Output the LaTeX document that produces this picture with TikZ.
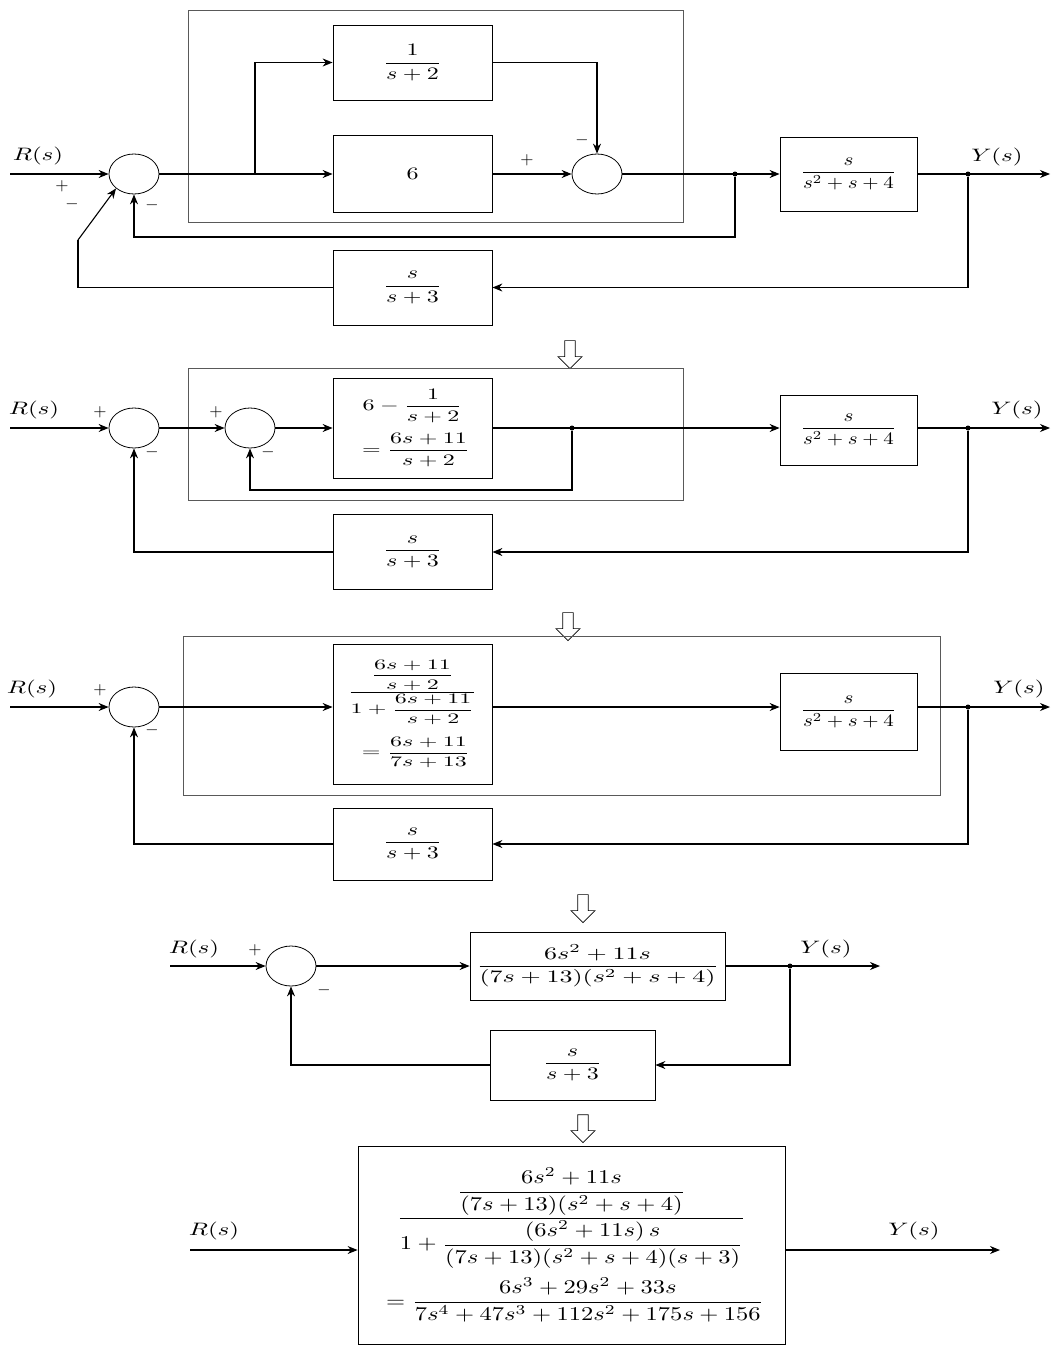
\documentclass[tikz,border=0pt]{standalone}
\usepackage{amsmath}
\usepackage{graphicx}
\usetikzlibrary{shapes.geometric,shapes.arrows,arrows.meta}
\newcommand{\bx}[1]{\scalebox{2.4}[1.75]{#1}}
\newcommand{\lx}[1]{\scalebox{2.5}[1.8]{#1}}
\newcommand{\sx}[1]{\scalebox{1.7}{#1}}
\tikzset{
  ln/.style={line width=1.1pt},
  arr/.style={line width=1.1pt,-{Stealth[length=10pt,width=8pt]}},
  blockbox/.style={draw,line width=0.8pt,minimum width=159pt,minimum height=75pt,inner sep=2pt},
  sumj/.style={draw,ellipse,line width=0.8pt,minimum width=50pt,minimum height=40pt,inner sep=0pt},
  grp/.style={draw=black!65,line width=0.6pt},
  lbl/.style={inner sep=1pt},
  sgn/.style={inner sep=1pt},
  dot/.style={circle,fill,inner sep=0pt,minimum size=5pt},
  stepdown/.style={draw,line width=0.7pt,single arrow,shape border rotate=270,minimum height=28pt,minimum width=24pt,single arrow head extend=3pt,inner sep=2pt,fill=white}
}
\begin{document}
\begin{tikzpicture}[x=1pt,y=-1pt]
\useasboundingbox (0,0) rectangle (1053,1346);

% ================= Stage 1 =================
\draw[grp] (188,10) rectangle (683,222);
\node[blockbox] (t1) at (412.5,62.5) {\bx{$\dfrac{1}{s+2}$}};
\node[blockbox,minimum height=77pt] (six) at (412.5,174) {\bx{$6$}};
\node[blockbox,minimum width=137pt,minimum height=74pt] (f1) at (848.5,174) {\scalebox{2.1}[1.75]{$\dfrac{s}{s^2+s+4}$}};
\node[blockbox] (h1) at (412.5,287.5) {\bx{$\dfrac{s}{s+3}$}};
\node[sumj] (sa) at (134,174) {};
\node[sumj] (sb) at (597,174) {};
\coordinate (r1) at (10,174);
\coordinate (y1) at (1050,174);
\coordinate (br1) at (255,174);
\node[dot] (p1) at (735,174) {};
\node[dot] (q1) at (968,174) {};
\coordinate (k1) at (78,240);
\node[lbl] (R1) at (38,156) {\lx{$R(s)$}};
\node[lbl] (Y1) at (997,157) {\lx{$Y(s)$}};
\node[sgn] at (62,186) {\sx{$+$}};
\node[sgn] at (72,204) {\sx{$-$}};
\node[sgn] at (152,205) {\sx{$-$}};
\node[sgn] at (527,160) {\sx{$+$}};
\node[sgn] at (582,140) {\sx{$-$}};
\draw[arr] (r1) -- (sa.west);
\draw[arr] (sa.east) -- (six.west);
\draw[arr] (br1) |- (t1.west);
\draw[arr] (t1.east) -| (sb.north);
\draw[arr] (six.east) -- (sb.west);
\draw[arr] (sb.east) -- (f1.west);
\draw[arr] (p1) -- (735,237) -| (sa.south);
\draw[arr] (f1.east) -- (y1);
\draw[arr] (q1) |- (h1.east);
\draw[ln] (h1.west) -| (k1);
\draw[arr] (k1) -- (sa.south west);

\node[stepdown] (d1) at (570,352) {};

% ================= Stage 2 =================
\draw[grp] (188,368) rectangle (683,500);
\node[sumj] (sc) at (134,428) {};
\node[sumj] (sd) at (250,428) {};
\node[blockbox,minimum height=100pt] (g2) at (412.5,428) {\scalebox{2.4}[1.6]{$\begin{array}{c}6-\dfrac{1}{s+2}\\ \rule{0pt}{20pt}=\dfrac{6s+11}{s+2}\end{array}$}};
\node[blockbox,minimum width=137pt,minimum height=70pt] (f2) at (848.5,430) {\scalebox{2.1}[1.75]{$\dfrac{s}{s^2+s+4}$}};
\node[blockbox] (h2) at (412.5,552) {\bx{$\dfrac{s}{s+3}$}};
\coordinate (r2) at (10,428);
\coordinate (y2) at (1050,428);
\node[dot] (p2) at (572,428) {};
\node[dot] (q2) at (968,428) {};
\node[lbl] (R2) at (34,410) {\lx{$R(s)$}};
\node[lbl] (Y2) at (1017,410) {\lx{$Y(s)$}};
\node[sgn] at (100,412) {\sx{$+$}};
\node[sgn] at (152,452) {\sx{$-$}};
\node[sgn] at (216,412) {\sx{$+$}};
\node[sgn] at (268,452) {\sx{$-$}};
\draw[arr] (r2) -- (sc.west);
\draw[arr] (sc.east) -- (sd.west);
\draw[arr] (sd.east) -- (g2.west);
\draw[arr] (g2.east) -- (f2.west |- g2.east);
\draw[arr] (p2) -- (572,490) -| (sd.south);
\draw[arr] (f2.east |- y2) -- (y2);
\draw[arr] (q2) |- (h2.east);
\draw[arr] (h2.west) -| (sc.south);

\node[stepdown] (d2) at (568,624) {};

% ================= Stage 3 =================
\draw[grp] (183,636) rectangle (940,795);
\node[sumj] (se) at (134,707) {};
\node[blockbox,minimum height=140pt] (g3) at (412.5,714) {\scalebox{2.4}[1.45]{$\begin{array}{c}\dfrac{\dfrac{6s+11}{s+2}}{1+\dfrac{6s+11}{s+2}}\\ \rule{0pt}{22pt}=\dfrac{6s+11}{7s+13}\end{array}$}};
\node[blockbox,minimum width=137pt,minimum height=77pt] (f3) at (848.5,712) {\scalebox{2.1}[1.75]{$\dfrac{s}{s^2+s+4}$}};
\node[blockbox,minimum height=72pt] (h3) at (412.5,844) {\bx{$\dfrac{s}{s+3}$}};
\coordinate (r3) at (10,707);
\coordinate (y3) at (1050,707);
\node[dot] (q3) at (968,707) {};
\node[lbl] (R3) at (32,689) {\lx{$R(s)$}};
\node[lbl] (Y3) at (1019,689) {\lx{$Y(s)$}};
\node[sgn] at (100,690) {\sx{$+$}};
\node[sgn] at (152,730) {\sx{$-$}};
\draw[arr] (r3) -- (se.west);
\draw[arr] (se.east) -- (g3.west |- se.east);
\draw[arr] (g3.east |- se.east) -- (f3.west |- se.east);
\draw[arr] (f3.east |- y3) -- (y3);
\draw[arr] (q3) |- (h3.east);
\draw[arr] (h3.west) -| (se.south);

\node[stepdown] (d3) at (583,906) {};

% ================= Stage 4 =================
\node[sumj] (sf) at (291,966) {};
\node[blockbox,minimum width=255pt,minimum height=68pt] (g4) at (597.5,966) {\scalebox{2.6}[1.75]{$\dfrac{6s^2+11s}{(7s+13)(s^2+s+4)}$}};
\node[blockbox,minimum width=165pt,minimum height=70pt] (h4) at (572.5,1065) {\bx{$\dfrac{s}{s+3}$}};
\coordinate (r4) at (170,966);
\coordinate (y4) at (880,966);
\node[dot] (q4) at (790,966) {};
\node[lbl] (R4) at (194,949) {\lx{$R(s)$}};
\node[lbl] (Y4) at (826,949) {\lx{$Y(s)$}};
\node[sgn] at (255,950) {\sx{$+$}};
\node[sgn] at (324,990) {\sx{$-$}};
\draw[arr] (r4) -- (sf.west);
\draw[arr] (sf.east) -- (g4.west);
\draw[arr] (g4.east) -- (y4);
\draw[arr] (q4) |- (h4.east);
\draw[arr] (h4.west) -| (sf.south);

\node[stepdown] (d4) at (583,1126) {};

% ================= Stage 5 =================
\node[blockbox,minimum width=427pt,minimum height=198pt] (g5) at (571.5,1245) {\scalebox{2.45}[1.95]{$\begin{array}{c}\dfrac{\dfrac{6s^2+11s}{(7s+13)(s^2+s+4)}}{1+\dfrac{(6s^2+11s)\,s}{(7s+13)(s^2+s+4)(s+3)}}\\ \rule{0pt}{20pt}=\dfrac{6s^3+29s^2+33s}{7s^4+47s^3+112s^2+175s+156}\end{array}$}};
\coordinate (r5) at (190,1250);
\coordinate (y5) at (1000,1250);
\node[lbl] (R5) at (214,1231) {\lx{$R(s)$}};
\node[lbl] (Y5) at (914,1231) {\lx{$Y(s)$}};
\draw[arr] (r5) -- (g5.west |- r5);
\draw[arr] (g5.east |- y5) -- (y5);
\end{tikzpicture}
\end{document}
